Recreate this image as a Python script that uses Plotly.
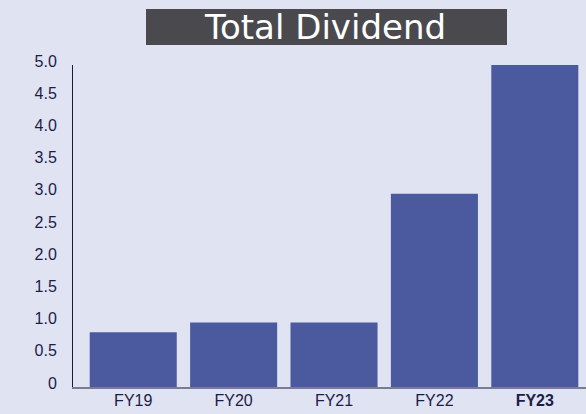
import plotly.graph_objects as go

categories = ["FY19", "FY20", "FY21", "FY22", "FY23"]
category_labels = ["FY19", "FY20", "FY21", "FY22", "<b>FY23</b>"]
dividend = [0.85, 1.0, 1.0, 3.0, 5.0]
y_tick_values = [0, 0.5, 1.0, 1.5, 2.0, 2.5, 3.0, 3.5, 4.0, 4.5, 5.0]
y_tick_labels = ["0", "0.5", "1.0", "1.5", "2.0", "2.5", "3.0", "3.5", "4.0", "4.5", "5.0"]
title_text = "Total Dividend"

BG = "#e0e3f2"
BAR = "#4b5a9e"
TXT = "#1c1c48"
FONT = "Liberation Sans, Arial, Helvetica, sans-serif"

fig = go.Figure(
    go.Bar(x=categories, y=dividend, marker=dict(color=BAR, line=dict(width=0)), hoverinfo="skip")
)

fig.update_layout(
    width=586, height=414,
    margin=dict(l=73, r=0, t=65, b=27, pad=0),
    paper_bgcolor=BG, plot_bgcolor=BG,
    bargap=0.133,
    showlegend=False,
    font=dict(family=FONT, color=TXT, size=16),
)

fig.update_xaxes(
    range=[-0.6, 4.51],
    tickmode="array", tickvals=categories, ticktext=category_labels,
    ticks="", showgrid=False, zeroline=False,
    showline=True, linecolor="#7b7b95", linewidth=1.5,
    tickfont=dict(family=FONT, size=16, color=TXT),
    ticklabelstandoff=-2,
)
fig.update_yaxes(
    range=[0, 5.0],
    tickmode="array", tickvals=y_tick_values, ticktext=y_tick_labels,
    ticks="", showgrid=False, zeroline=False,
    showline=True, linecolor="#1a1a40", linewidth=1,
    tickfont=dict(family=FONT, size=16, color=TXT),
    ticklabelstandoff=12, ticklabelshift=-4,
)

fig.add_shape(
    type="rect", xref="paper", yref="paper",
    x0=(146 - 73) / 513, x1=(507 - 73) / 513,
    y0=(387 - 45) / 322, y1=(387 - 9) / 322,
    fillcolor="#4a4a4e", line=dict(width=0), layer="above",
)
fig.add_annotation(
    text=title_text, xref="paper", yref="paper",
    x=(325 - 73) / 513, y=(387 - 27) / 322,
    xanchor="center", yanchor="middle", showarrow=False,
    font=dict(family="DejaVu Sans, Verdana, sans-serif", size=34, color="white"),
)

fig.write_html(
    "out.html",
    config={"displayModeBar": False},
    post_script="document.body.style.margin='0';document.body.style.background='" + BG + "';",
)
